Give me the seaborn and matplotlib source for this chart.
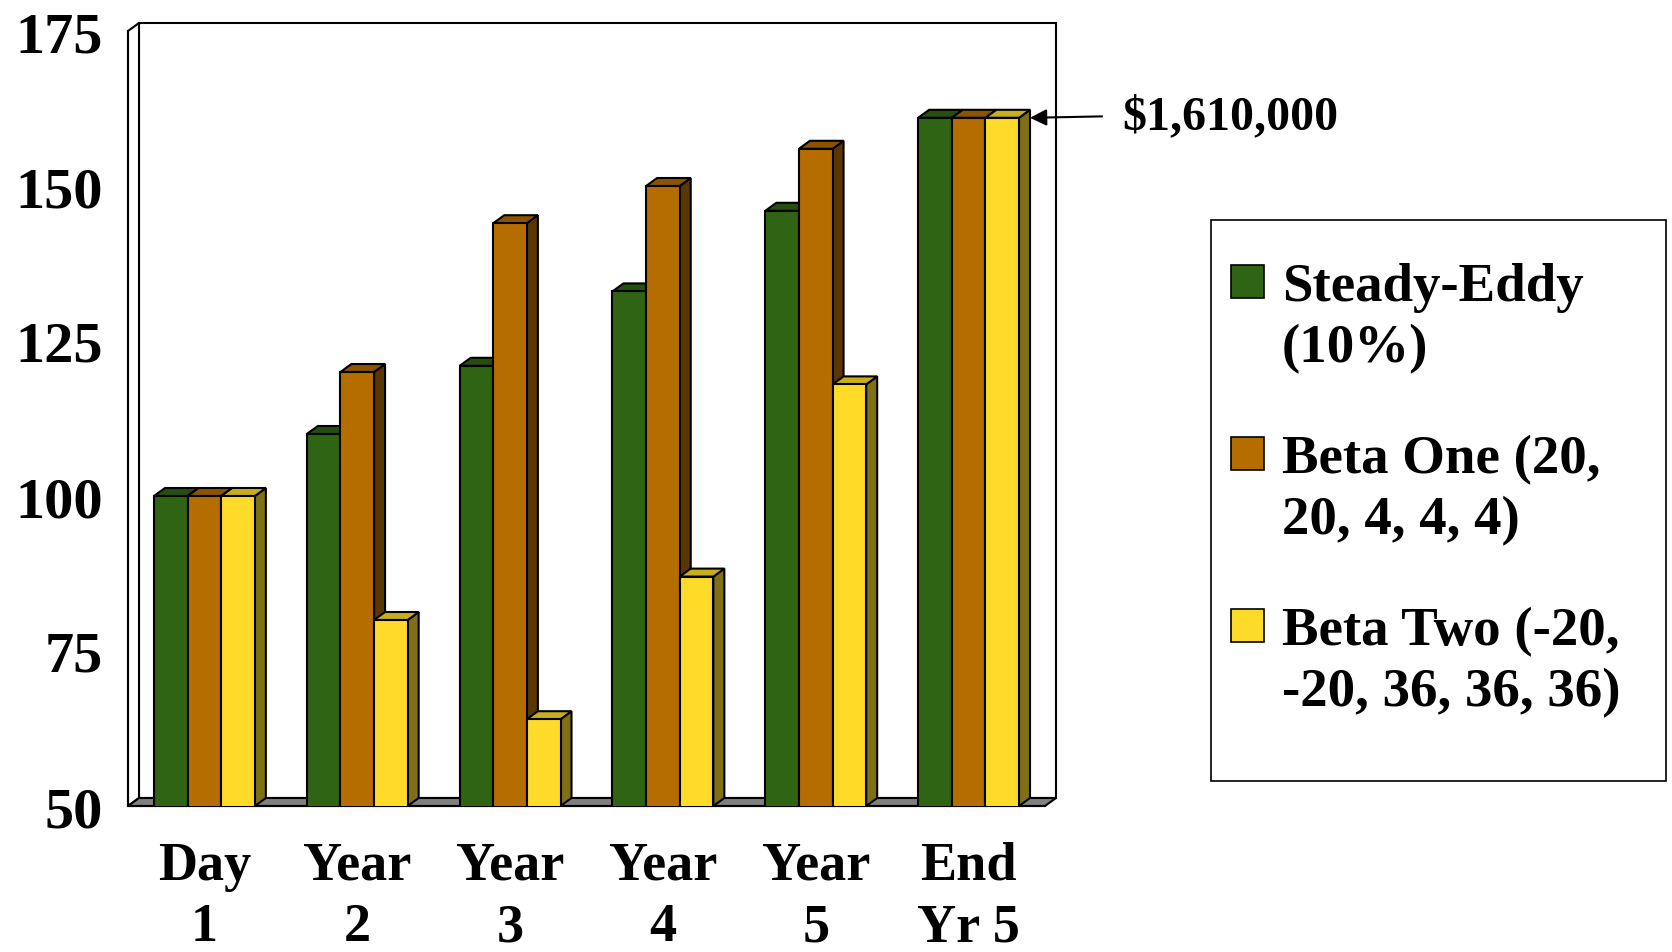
import numpy as np
import pandas as pd
import matplotlib
matplotlib.use("Agg")
import matplotlib.pyplot as plt
from matplotlib.patches import Polygon, Rectangle
import seaborn as sns

# ---- data -------------------------------------------------------------
periods = ["Day\n1", "Year\n2", "Year\n3", "Year\n4", "Year\n5", "End\nYr 5"]
series_names = ["Steady-Eddy\n(10%)",
                "Beta One (20,\n20, 4, 4, 4)",
                "Beta Two (-20,\n-20, 36, 36, 36)"]
steady_eddy = [100, 110, 121, 133, 146, 161]
beta_one = [100, 120, 144, 150, 156, 161]
beta_two = [100, 80, 64, 87, 118, 161]
y_ticks = [50, 75, 100, 125, 150, 175]
end_label = "$1,610,000"

# ---- styling ----------------------------------------------------------
front_colors = ["#2E6413", "#B56D00", "#FFDB29"]
top_colors = ["#244F10", "#8B5400", "#C7AE20"]
side_colors = ["#173209", "#5A3600", "#807015"]

sns.set_style("white")
plt.rcParams["font.family"] = ["Liberation Serif", "DejaVu Serif"]
plt.rcParams["font.weight"] = "bold"
for key in ("text.color", "axes.labelcolor", "xtick.color", "ytick.color"):
    plt.rcParams[key] = "black"

W, H = 1672, 953
fig = plt.figure(figsize=(W / 100, H / 100), dpi=100)
fig.patch.set_facecolor("white")

# front plane of the 3-D box, in figure pixels
left_px, right_px, top_px, bottom_px = 128, 1045, 32, 807
ax = fig.add_axes([left_px / W, 1 - bottom_px / H,
                   (right_px - left_px) / W, (bottom_px - top_px) / H])
ax.patch.set_visible(False)

df = pd.DataFrame({
    "period": periods * 3,
    "series": np.repeat(series_names, len(periods)),
    "value": steady_eddy + beta_one + beta_two,
})

sns.barplot(data=df, x="period", y="value", hue="series",
            order=periods, hue_order=series_names,
            palette=front_colors, saturation=1, width=0.66,
            edgecolor="black", linewidth=1.5, legend=False, ax=ax)

x_lo, x_hi = -0.5, len(periods) - 0.5
y_lo, y_hi = y_ticks[0], y_ticks[-1]
ax.set_xlim(x_lo, x_hi)
ax.set_ylim(y_lo, y_hi)

# depth of the box, converted from pixels into data units
depth_x_px, depth_y_px = 11, 8
dx = depth_x_px * (x_hi - x_lo) / (right_px - left_px)
dy = depth_y_px * (y_hi - y_lo) / (bottom_px - top_px)

# back wall, side wall and floor
back = Polygon([(x_lo + dx, y_lo + dy), (x_hi + dx, y_lo + dy),
                (x_hi + dx, y_hi + dy), (x_lo + dx, y_hi + dy)],
               closed=True, facecolor="white", edgecolor="black",
               linewidth=1.5, zorder=0.5, clip_on=False)
side_wall = Polygon([(x_lo, y_lo), (x_lo, y_hi), (x_lo + dx, y_hi + dy),
                     (x_lo + dx, y_lo + dy)],
                    closed=True, facecolor="white", edgecolor="black",
                    linewidth=1.5, zorder=0.6, clip_on=False)
floor = Polygon([(x_lo, y_lo), (x_hi, y_lo), (x_hi + dx, y_lo + dy),
                 (x_lo + dx, y_lo + dy)],
                closed=True, facecolor="#808080", edgecolor="black",
                linewidth=1.5, zorder=0.7, clip_on=False)
for p in (back, side_wall, floor):
    ax.add_patch(p)

# extrude each bar: side and top faces
for h, container in enumerate(ax.containers):
    base_z = 3 + 0.1 * h
    for bar in container:
        bar.set_zorder(base_z + 0.05)
        x0 = bar.get_x()
        x1 = x0 + bar.get_width()
        top = bar.get_y() + bar.get_height()
        side = Polygon([(x1, y_lo), (x1, top), (x1 + dx, top + dy),
                        (x1 + dx, y_lo + dy)],
                       closed=True, facecolor=side_colors[h],
                       edgecolor="black", linewidth=1.5, zorder=base_z,
                       clip_on=False)
        cap = Polygon([(x0, top), (x1, top), (x1 + dx, top + dy),
                       (x0 + dx, top + dy)],
                      closed=True, facecolor=top_colors[h],
                      edgecolor="black", linewidth=1.5, zorder=base_z,
                      clip_on=False)
        ax.add_patch(side)
        ax.add_patch(cap)

# axes lines and ticks
for s in ("top", "right"):
    ax.spines[s].set_visible(False)
for s in ("left", "bottom"):
    ax.spines[s].set_visible(True)
    ax.spines[s].set_color("black")
    ax.spines[s].set_linewidth(1.5)

ax.set_yticks(y_ticks)
ax.set_yticklabels([str(v) for v in y_ticks], fontsize=42, fontweight="bold")
ax.tick_params(axis="y", direction="out", length=10, width=1.5,
               color="black", pad=8)

ax.set_xticks(range(len(periods)))
ax.set_xticklabels(periods, fontsize=39, fontweight="bold", linespacing=1.3)
ax.set_xticks(np.arange(x_lo, x_hi + 0.01, 1.0), minor=True)
ax.tick_params(axis="x", which="major", length=0, pad=25)
ax.tick_params(axis="x", which="minor", direction="out", length=11,
               width=1.5, color="black")
ax.set_xlabel("")
ax.set_ylabel("")

# annotation on the final value
last_bar = ax.containers[-1][-1]
tip_x = last_bar.get_x() + last_bar.get_width() + dx
tip_y = last_bar.get_y() + last_bar.get_height()
ax.annotate(end_label, xy=(tip_x, tip_y), xycoords="data",
            xytext=(1122, H - 117), textcoords="figure pixels",
            ha="left", va="center", fontsize=34.5, fontweight="bold",
            annotation_clip=False,
            arrowprops=dict(arrowstyle="-|>", color="black", lw=1.5,
                            relpos=(0, 0.5), shrinkA=12, shrinkB=0,
                            mutation_scale=25))

# legend box
def fx(px):
    return px / W


def fy(py):
    return 1 - py / H


box_l, box_r, box_t, box_b = 1211, 1666, 221, 782
fig.add_artist(Rectangle((fx(box_l), fy(box_b)), fx(box_r) - fx(box_l),
                         fy(box_t) - fy(box_b), transform=fig.transFigure,
                         facecolor="white", edgecolor="black", linewidth=1.2))

entry_top = [266, 438, 610]
sq = 33
for i, name in enumerate(series_names):
    t = entry_top[i]
    fig.add_artist(Rectangle((fx(1231), fy(t + sq)), fx(1231 + sq) - fx(1231),
                             fy(t) - fy(t + sq), transform=fig.transFigure,
                             facecolor=front_colors[i], edgecolor="black",
                             linewidth=1.2))
    for j, line in enumerate(name.split("\n")):
        fig.text(fx(1282), fy(t + sq + 2 + j * 61), line, fontsize=39.5,
                 fontweight="bold", ha="left", va="baseline")

fig.savefig("out.png", dpi=100, facecolor="white")
